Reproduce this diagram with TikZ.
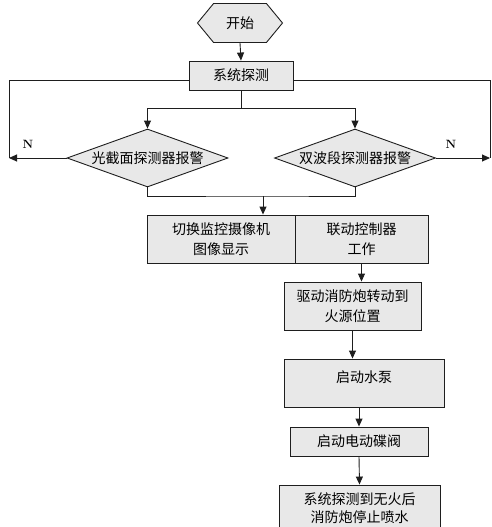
\documentclass[tikz,border=0pt]{standalone}
\usepackage{fontspec}
\newfontfamily\cjk{Noto Sans CJK SC}
\usetikzlibrary{shapes.geometric, shapes.symbols, arrows.meta, positioning}
\definecolor{boxgray}{RGB}{232, 232, 232}
\definecolor{linedark}{RGB}{30, 30, 30}

\begin{document}
\begin{tikzpicture}[x=1pt, y=-1pt,
        box/.style={draw=linedark, fill=boxgray, line width=0.9pt, inner sep=0pt,
            font=\cjk\fontsize{14}{20}\selectfont, align=center},
        decision/.style={diamond, draw=linedark, fill=boxgray, line width=0.9pt,
            inner sep=0pt, aspect=2.78, minimum width=161pt, minimum height=58pt,
            font=\cjk\fontsize{14}{20}\selectfont},
        arrow/.style={line width=0.9pt, draw=linedark, -{Triangle[length=8pt, width=7pt]}},
        wire/.style={line width=0.9pt, draw=linedark}]
    \useasboundingbox (0,0) rectangle (492,527);

    % Start and detection
    \node[box, signal, signal to=west and east, signal pointer angle=101,
        minimum width=85pt, minimum height=39pt] (start) at (240,23) {开始};
    \node[box, minimum width=104pt, minimum height=29pt] (sys) at (241,75.5) {系统探测};

    % Two detectors
    \node[decision] (d1) at (147.5,158) {光截面探测器报警};
    \node[decision] (d2) at (355,158) {双波段探测器报警};
    \node[font=\bfseries\fontsize{12}{14}\selectfont] (nl) at (28,144) {N};
    \node[font=\bfseries\fontsize{12}{14}\selectfont] (nr) at (451,144) {N};

    % Camera and controller
    \node[box, minimum width=148pt, minimum height=48pt] (cam) at (221,239) {切换监控摄像机\\图像显示};
    \node[box, minimum width=133pt, minimum height=48pt] (ctl) at (361.5,239) {联动控制器\\工作};

    % Fire cannon steps
    \node[box, minimum width=137pt, minimum height=48pt] (drive) at (352.5,306) {驱动消防炮转动到\\火源位置};
    \node[box, minimum width=160pt, minimum height=48pt] (pump) at (364,383) {};
    \node[font=\cjk\fontsize{14}{20}\selectfont, yshift=6pt] (pumptxt) at (pump.center) {启动水泵};
    \node[box, minimum width=138pt, minimum height=29pt] (valve) at (359,441.5) {启动电动碟阀};
    \node[box, minimum width=161pt, minimum height=56pt] (stop) at (359.5,513) {};
    \node[font=\cjk\fontsize{14}{18}\selectfont, align=center] (stoptxt) at (359.5,508.5) {系统探测到无火后\\消防炮停止喷水};

    % Connectors
    \coordinate (split) at (241,108);
    \coordinate (merge) at (263,196);
    \coordinate (lfb) at (9,80);
    \coordinate (rtb) at (490,80);
    \draw[arrow] (start.south) -- (sys.north);
    \draw[wire] (sys.south) -- (split);
    \draw[arrow] (split) -| (d1.north);
    \draw[arrow] (split) -| (d2.north);
    \draw[wire] (sys.west |- lfb) -- (lfb) -- (lfb |- d1.west);
    \draw[arrow] (d1.west) -- (lfb |- d1.west);
    \draw[wire] (sys.east |- rtb) -- (rtb) -- (rtb |- d2.east);
    \draw[arrow] (d2.east) -- (rtb |- d2.east);
    \draw[wire] (d1.south) |- (merge) -| (d2.south);
    \draw[arrow] (merge) -- (merge |- cam.north);
    \draw[arrow] (ctl.south) -- (ctl.south |- drive.north);
    \draw[arrow] (drive.south) -- (drive.south |- pump.north);
    \draw[arrow] (valve.north |- pump.south) -- (valve.north);
    \draw[arrow] (valve.south) -- (stop.north);
\end{tikzpicture}
\end{document}
